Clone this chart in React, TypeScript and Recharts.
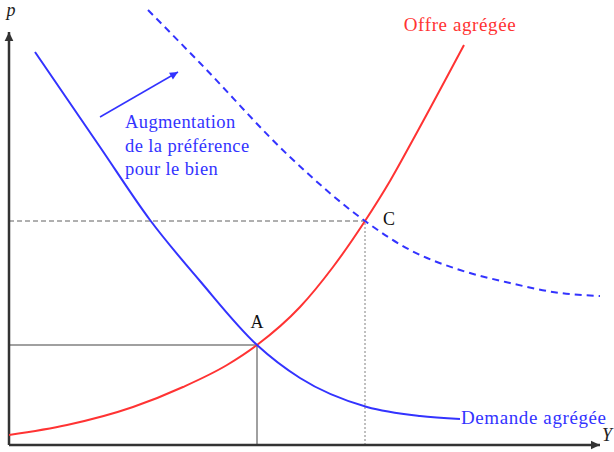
import {
  LineChart, Line, XAxis, YAxis, ReferenceLine, ReferenceDot,
} from 'recharts';

// quantities (Y) and prices (p)
const demandQty = [26, 91, 141, 191, 248, 291, 358, 411, 451];
const demandPrice = [393, 298, 225, 164, 100, 67, 38, 29, 26];

const shiftedQty = [139, 191, 281, 356, 401, 451, 501, 551, 591];
const shiftedPrice = [435, 382, 288, 224, 195, 175, 162, 152, 149];

const supplyQty = [0, 58, 124, 174, 218, 248, 291, 324, 356, 381, 406, 455];
const supplyPrice = [10, 20, 38, 58, 80, 100, 138, 178, 224, 264, 309, 400];

const pointA = { x: 248, y: 100 };
const pointC = { x: 356, y: 224 };

const shiftArrow = [{ x: 91, y: 328 }, { x: 169, y: 373 }];
const xAxisEnd = 591;
const yAxisEnd = 413;

const noteLines = ['Augmentation', 'de la préférence', 'pour le bien'];

const toPoints = (xs: number[], ys: number[]) => xs.map((x, i) => ({ x, y: ys[i] }));

const demand = toPoints(demandQty, demandPrice);
const shifted = toPoints(shiftedQty, shiftedPrice);
const supply = toPoints(supplyQty, supplyPrice);

const BLUE = '#3333ff';
const RED = '#ff3333';
const FONT = '"Liberation Serif", "DejaVu Serif", serif';

const arrowShape = (color: string, width: number, head: number) => (props: any) => {
  const { x1, y1, x2, y2 } = props;
  const a = Math.atan2(y2 - y1, x2 - x1);
  const hx1 = x2 - head * Math.cos(a - 0.45);
  const hy1 = y2 - head * Math.sin(a - 0.45);
  const hx2 = x2 - head * Math.cos(a + 0.45);
  const hy2 = y2 - head * Math.sin(a + 0.45);
  return (
    <g>
      <line x1={x1} y1={y1} x2={x2} y2={y2} stroke={color} strokeWidth={width} />
      <polygon points={`${hx1},${hy1} ${x2},${y2} ${hx2},${hy2}`} fill={color} />
    </g>
  );
};

const textShape = (txt: string, color: string, size: number, opts: any = {}) => (props: any) => (
  <text
    x={props.cx}
    y={props.cy}
    fill={color}
    fontSize={size}
    fontFamily={FONT}
    textAnchor={opts.anchor || 'start'}
    fontStyle={opts.italic ? 'italic' : 'normal'}
    letterSpacing={opts.spacing || 0}
  >
    {txt}
  </text>
);

export default function App() {
  return (
    <div style={{ position: 'absolute', left: 0, top: 0, background: '#fff' }}>
      <LineChart width={614} height={452} margin={{ top: 0, right: 0, bottom: 7, left: 9 }}>
        <XAxis type="number" dataKey="x" domain={[0, 605]} hide allowDataOverflow />
        <YAxis type="number" dataKey="y" domain={[0, 445]} hide allowDataOverflow />

        {/* guide lines for A and C */}
        <ReferenceLine segment={[{ x: 0, y: pointA.y }, pointA]} stroke="#808080" strokeWidth={1.5} />
        <ReferenceLine segment={[{ x: pointA.x, y: 0 }, pointA]} stroke="#808080" strokeWidth={1.5} />
        <ReferenceLine segment={[{ x: 0, y: pointC.y }, pointC]} stroke="#606060" strokeWidth={1} strokeDasharray="5 3" />
        <ReferenceLine segment={[{ x: pointC.x, y: 0 }, pointC]} stroke="#808080" strokeWidth={1} strokeDasharray="2 2" />

        {/* axes */}
        <ReferenceLine segment={[{ x: 0, y: 0 }, { x: xAxisEnd, y: 0 }]} shape={arrowShape('#333', 2.5, 10)} />
        <ReferenceLine segment={[{ x: 0, y: 0 }, { x: 0, y: yAxisEnd }]} shape={arrowShape('#333', 2.5, 10)} />

        <Line data={supply} dataKey="y" type="monotone" stroke={RED} strokeWidth={2} dot={false} isAnimationActive={false} />
        <Line data={demand} dataKey="y" type="monotone" stroke={BLUE} strokeWidth={2} dot={false} isAnimationActive={false} />
        <Line data={shifted} dataKey="y" type="monotone" stroke={BLUE} strokeWidth={2} strokeDasharray="7 5" dot={false} isAnimationActive={false} />

        <ReferenceLine segment={shiftArrow} shape={arrowShape(BLUE, 1.5, 9)} />

        {/* labels */}
        <ReferenceDot x={2} y={429} r={0} shape={textShape('p', '#222', 18, { anchor: 'middle', italic: true })} />
        <ReferenceDot x={598} y={4} r={0} ifOverflow="visible" shape={textShape('Y', '#222', 18, { anchor: 'middle', italic: true })} />
        <ReferenceDot x={451} y={414} r={0} shape={textShape('Offre agrégée', RED, 19, { anchor: 'middle', spacing: 0.6 })} />
        <ReferenceDot x={452} y={21} r={0} shape={textShape('Demande agrégée', BLUE, 19, { spacing: 0.6 })} />
        <ReferenceDot x={248} y={117} r={0} shape={textShape('A', '#111', 18, { anchor: 'middle' })} />
        <ReferenceDot x={380} y={220} r={0} shape={textShape('C', '#111', 18, { anchor: 'middle' })} />
        {noteLines.map((t, i) => (
          <ReferenceDot key={t} x={116} y={317 - i * 23.5} r={0} shape={textShape(t, BLUE, 18.5, { spacing: 0.4 })} />
        ))}
      </LineChart>
    </div>
  );
}
